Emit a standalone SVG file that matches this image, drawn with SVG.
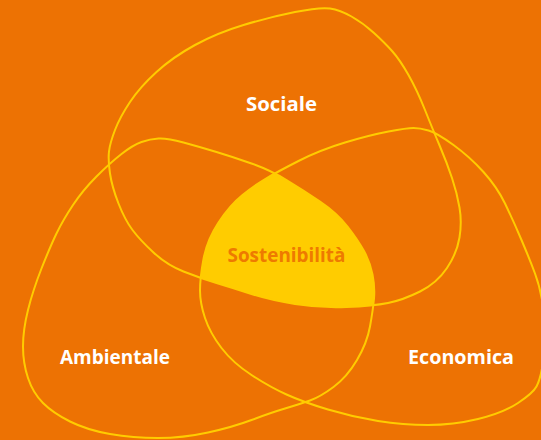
<svg xmlns="http://www.w3.org/2000/svg" xmlns:xlink="http://www.w3.org/1999/xlink" width="541" height="440" viewBox="0 0 541 440">
<style>
.ring{fill:none;stroke:#FFCC00;stroke-width:2}
.lbl{font-family:"Open Sans",Lato,sans-serif;font-weight:700;font-size:19.5px;fill:#FFFFFF;text-anchor:middle}
.core{font-family:"Open Sans",Lato,sans-serif;font-weight:700;font-size:19.5px;fill:#EE7A00;text-anchor:middle}
</style>
<defs>
<path id="pS" d="M295,12 Q320,7 330,8.5 Q340,10 351.5,16.5 Q363,23 374,33 Q385,43 392.5,51.5 Q400,60 408.5,75 Q417,90 425,110 Q433,130 440,146.5 Q447,163 452,178 Q457,193 459.5,207.5 Q462,222 459.5,237.5 Q457,253 447,268 Q437,283 420,291.5 Q403,300 388,303 Q373,306 346.5,307 Q320,308 295,304 Q270,300 251.5,294 Q233,288 216.5,283 Q200,278 183.5,271.5 Q167,265 153.5,252.5 Q140,240 132.5,230 Q125,220 118.5,203.5 Q112,187 110,173.5 Q108,160 109,151.5 Q110,143 115,130 Q120,117 130,102 Q140,87 156.5,72 Q173,57 195,45 Q217,33 243.5,25 Q270,17 295,12 Z"/>
<path id="pE" d="M388.5,131.5 Q407,128 413.5,128 Q420,128 428.5,130.5 Q437,133 453.5,145 Q470,157 483.5,172 Q497,187 505,203.5 Q513,220 521.5,240 Q530,260 535,273.5 Q540,287 542.5,302.5 Q545,318 545,335 Q545,352 542.5,366 Q540,380 536.5,386.5 Q533,393 518,403 Q503,413 478,419 Q453,425 428,425 Q403,425 378,421 Q353,417 328,409.5 Q303,402 286.5,394.5 Q270,387 251.5,375 Q233,363 221.5,348 Q210,333 205,318 Q200,303 200,290.5 Q200,278 203.5,259 Q207,240 218.5,222.5 Q230,205 242.5,195 Q255,185 266,178.5 Q277,172 298.5,161 Q320,150 345,142.5 Q370,135 388.5,131.5 Z"/>
<path id="pA" d="M141.5,142 Q150,139 158.5,138.5 Q167,138 183.5,142.5 Q200,147 216.5,152 Q233,157 251.5,163.5 Q270,170 286.5,180 Q303,190 320,201.5 Q337,213 347.5,226.5 Q358,240 364,251 Q370,262 372.5,274.5 Q375,287 374,298.5 Q373,310 370,326.5 Q367,343 357,360 Q347,377 333.5,387 Q320,397 310,400.5 Q300,404 285,408.5 Q270,413 251.5,420 Q233,427 208,432.5 Q183,438 158,438 Q133,438 110,434 Q87,430 70,421.5 Q53,413 43,403 Q33,393 28,378 Q23,363 23,346.5 Q23,330 28,310 Q33,290 41.5,268.5 Q50,247 56.5,233.5 Q63,220 73,205 Q83,190 96.5,176.5 Q110,163 121.5,154 Q133,145 141.5,142 Z"/>
<clipPath id="clipE"><use xlink:href="#pE"/></clipPath>
<clipPath id="clipA"><use xlink:href="#pA"/></clipPath>
</defs>
<rect width="541" height="440" fill="#ED7203"/>
<g id="core">
<g clip-path="url(#clipE)"><use xlink:href="#pS" fill="#FFCC00" stroke="none" clip-path="url(#clipA)"/></g>
</g>
<g id="sociale"><use xlink:href="#pS" class="ring"/><text class="lbl" x="281.5" y="111" textLength="71" lengthAdjust="spacingAndGlyphs">Sociale</text></g>
<g id="ambientale"><use xlink:href="#pA" class="ring"/><text class="lbl" x="115" y="364" textLength="110" lengthAdjust="spacingAndGlyphs">Ambientale</text></g>
<g id="economica"><use xlink:href="#pE" class="ring"/><text class="lbl" x="461" y="364" textLength="106" lengthAdjust="spacingAndGlyphs">Economica</text></g>
<g id="sostenibilita"><text class="core" x="286.5" y="262" textLength="118" lengthAdjust="spacingAndGlyphs">Sostenibilità</text></g>
</svg>
